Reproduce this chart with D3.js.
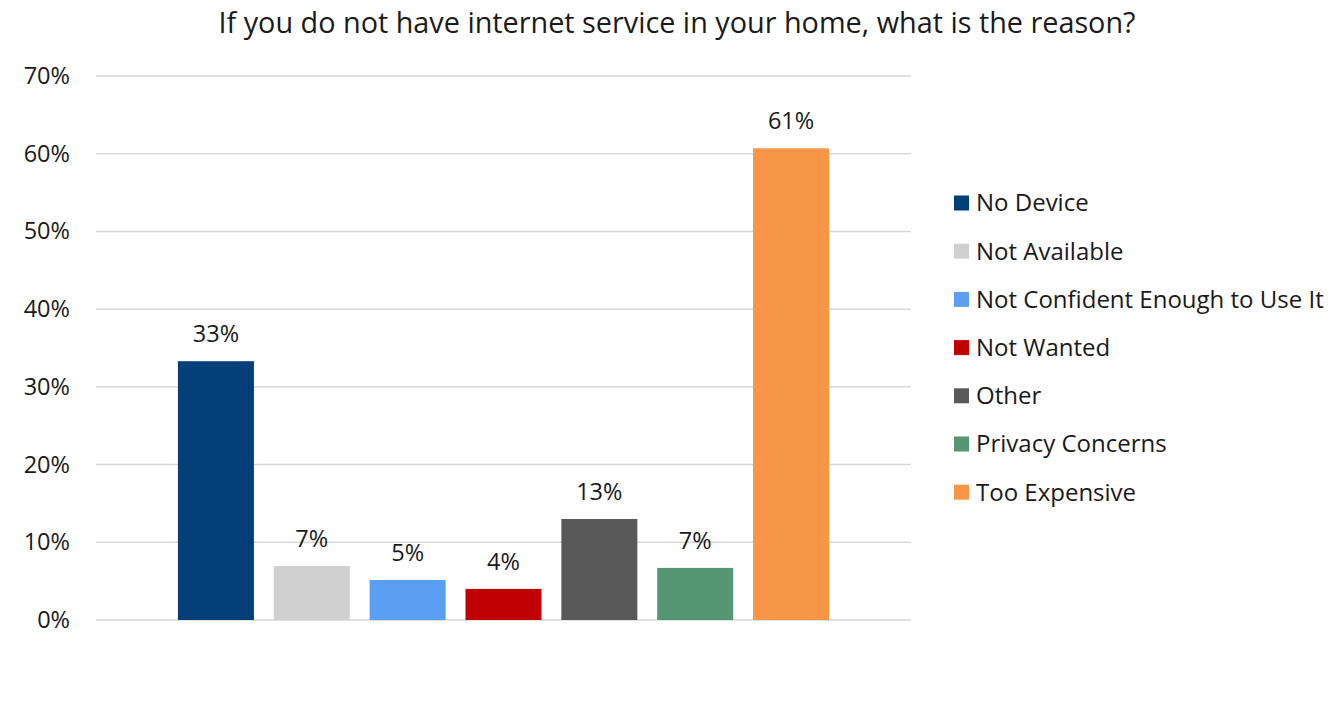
<!DOCTYPE html>
<html>
<head>
<meta charset="utf-8">
<script src="https://cdn.jsdelivr.net/npm/d3@7"></script>
<style>
  html, body { margin: 0; padding: 0; background: #fff; }
  svg { display: block; font-family: "Open Sans", "Noto Sans", sans-serif; }
</style>
</head>
<body>
<svg id="chart" width="1339" height="714"></svg>
<script>
// Survey responses: share of households without home internet, by reason
const categories = ["No Device", "Not Available", "Not Confident Enough to Use It", "Not Wanted", "Other", "Privacy Concerns", "Too Expensive"];
const values = [0.333, 0.0695, 0.0515, 0.040, 0.130, 0.067, 0.607];
const colors = ["#023e78", "#d0d0d0", "#5b9ef2", "#c00000", "#595959", "#559673", "#f79646"];
const yTicks = [0, 0.1, 0.2, 0.3, 0.4, 0.5, 0.6, 0.7];
const title = "If you do not have internet service in your home, what is the reason?";

const svg = d3.select("#chart");
const plot = { left: 96, right: 911, top: 76, bottom: 620 };

const y = d3.scaleLinear().domain([0, 0.7]).range([plot.bottom, plot.top]);

// seven series bars sharing a single category group, centred in the plot
const x = d3.scaleBand().domain(categories)
  .range([168, 839])
  .paddingInner(0.207).paddingOuter(0.1035);

const fmt = d3.format(".0%");
const textColor = "#1a1a1a";

// gridlines
svg.append("g")
  .selectAll("line")
  .data(yTicks)
  .join("line")
  .attr("x1", plot.left).attr("x2", plot.right)
  .attr("y1", d => y(d)).attr("y2", d => y(d))
  .attr("stroke", "#d9d9d9").attr("stroke-width", 1.5);

// y axis labels
const yAxis = d3.axisLeft(y).tickValues(yTicks).tickFormat(fmt).tickSize(0).tickPadding(0);
const ya = svg.append("g").attr("transform", "translate(70,0)").call(yAxis);
ya.select(".domain").remove();
ya.selectAll("text").attr("font-size", 23.5).attr("fill", textColor).attr("font-family", "Open Sans");

// bars
svg.append("g")
  .selectAll("rect")
  .data(categories)
  .join("rect")
  .attr("x", d => x(d))
  .attr("width", x.bandwidth())
  .attr("y", (d, i) => y(values[i]))
  .attr("height", (d, i) => y(0) - y(values[i]))
  .attr("fill", (d, i) => colors[i]);

// value labels
svg.append("g")
  .selectAll("text")
  .data(categories)
  .join("text")
  .attr("x", d => x(d) + x.bandwidth() / 2)
  .attr("y", (d, i) => y(values[i]) - 19)
  .attr("text-anchor", "middle")
  .attr("font-size", 23.5)
  .attr("fill", textColor)
  .text((d, i) => fmt(values[i]));

// title
svg.append("text")
  .attr("x", 677).attr("y", 33)
  .attr("text-anchor", "middle")
  .attr("font-size", 28.8)
  .attr("fill", textColor)
  .text(title);

// legend
const legend = svg.append("g").attr("transform", "translate(954,203)");
const rows = legend.selectAll("g")
  .data(categories)
  .join("g")
  .attr("transform", (d, i) => `translate(0,${i * 48.2})`);
rows.append("rect")
  .attr("x", 0).attr("y", -7.5)
  .attr("width", 15).attr("height", 15)
  .attr("fill", (d, i) => colors[i]);
rows.append("text")
  .attr("x", 22).attr("y", 0)
  .attr("dy", "0.35em")
  .attr("font-size", 24)
  .attr("fill", textColor)
  .text(d => d);
</script>
</body>
</html>
